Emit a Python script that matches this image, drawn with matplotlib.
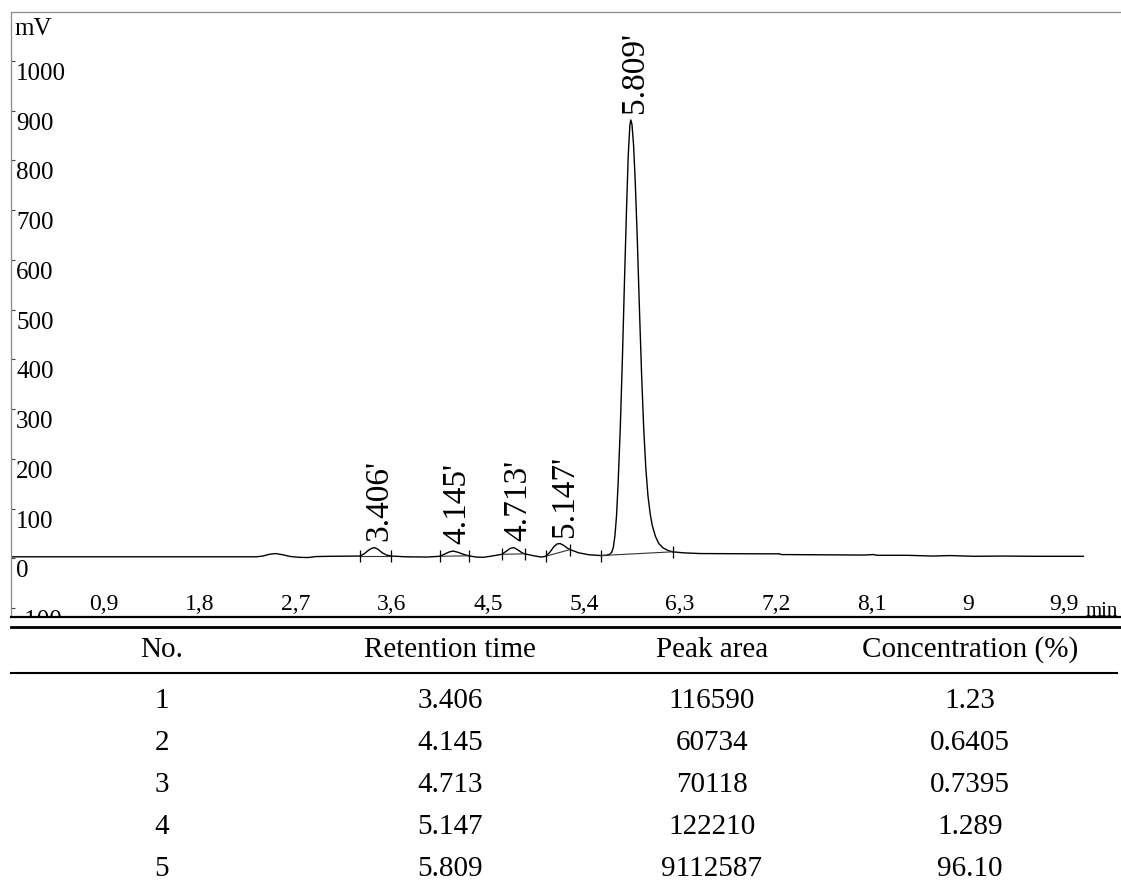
import matplotlib
matplotlib.use("Agg")
import matplotlib.pyplot as plt
from matplotlib.lines import Line2D

plt.rcParams['font.family'] = ['Liberation Serif', 'DejaVu Serif']

# ---- chromatogram trace (time in min, signal in mV)
time_min = [0.00, 1.00, 2.00, 2.30, 2.36, 2.42, 2.48, 2.55, 2.62, 2.70, 2.78, 2.86, 3.00,
            3.27, 3.31, 3.35, 3.38, 3.406, 3.44, 3.48, 3.52, 3.565,
            3.70, 3.90, 4.017, 4.06, 4.11, 4.145, 4.19, 4.24, 4.29,
            4.36, 4.43, 4.52, 4.60, 4.64, 4.68, 4.713, 4.75, 4.79, 4.815,
            4.90, 4.97, 5.01, 5.05, 5.09, 5.12, 5.147, 5.18, 5.21, 5.24,
            5.32, 5.42, 5.53, 5.58, 5.61, 5.63, 5.645, 5.66, 5.675, 5.69, 5.71,
            5.73, 5.75, 5.77, 5.785, 5.80, 5.809, 5.82, 5.835, 5.85, 5.87, 5.89,
            5.91, 5.93, 5.95, 5.97, 5.99, 6.01, 6.04, 6.07, 6.11, 6.16, 6.20,
            6.30, 6.46, 7.00, 7.20, 7.22, 7.60, 8.00, 8.08, 8.12, 8.40, 8.64,
            8.80, 9.02, 9.30, 9.60, 10.05]
signal_mv = [3.0, 3.0, 3.0, 3.0, 4.5, 8.0, 9.5, 7.0, 3.5, 2.0, 1.5, 3.5, 4.0,
             4.5, 9.0, 16.0, 20.0, 21.5, 18.0, 11.0, 6.5, 4.5,
             3.0, 2.5, 4.0, 8.0, 13.0, 14.5, 12.0, 8.0, 5.0,
             2.5, 2.0, 5.0, 8.0, 14.0, 20.0, 21.5, 17.0, 11.0, 9.0,
             5.0, 2.5, 4.0, 12.0, 24.0, 29.0, 29.5, 26.0, 21.0, 17.5,
             11.0, 7.0, 5.5, 6.0, 8.0, 12.0, 22.0, 45.0, 85.0, 150.0, 260.0,
             400.0, 560.0, 710.0, 810.0, 870.0, 881.0, 872.0, 830.0, 760.0, 640.0, 500.0,
             370.0, 260.0, 180.0, 125.0, 90.0, 66.0, 44.0, 30.0, 21.0, 15.5, 13.0,
             11.0, 9.5, 9.0, 9.0, 7.5, 7.0, 6.5, 7.5, 6.0, 6.0, 4.5,
             5.5, 4.0, 4.5, 4.0, 4.0]

# ---- peaks
peak_times = [3.406, 4.145, 4.713, 5.147, 5.809]
peak_heights = [21.5, 14.5, 21.5, 29.5, 881.0]
peak_labels = ["3.406'", "4.145'", "4.713'", "5.147'", "5.809'"]
# integration limits (start/end) and the signal there
limit_start_t = [3.27, 4.017, 4.60, 5.01, 5.53]
limit_start_v = [4.5, 4.0, 8.0, 4.0, 5.5]
limit_end_t = [3.565, 4.29, 4.815, 5.24, 6.20]
limit_end_v = [4.5, 5.0, 9.0, 17.5, 13.0]

# ---- axes ticks
y_ticks = [-100, 0, 100, 200, 300, 400, 500, 600, 700, 800, 900, 1000]
x_ticks = [0.9, 1.8, 2.7, 3.6, 4.5, 5.4, 6.3, 7.2, 8.1, 9.0, 9.9]
x_tick_labels = ["0,9", "1,8", "2,7", "3,6", "4,5", "5,4", "6,3", "7,2", "8,1", "9", "9,9"]

# ---- table
table_header = ["No.", "Retention time", "Peak area", "Concentration (%)"]
table_no = ["1", "2", "3", "4", "5"]
table_rt = ["3.406", "4.145", "4.713", "5.147", "5.809"]
table_area = ["116590", "60734", "70118", "122210", "9112587"]
table_conc = ["1.23", "0.6405", "0.7395", "1.289", "96.10"]

W, H = 1121, 892
fig = plt.figure(figsize=(W / 100, H / 100), dpi=100)

ax_left, ax_top, ax_bottom = 11, 12, 617
ax = fig.add_axes([ax_left / W, 1 - ax_bottom / H, (W + 5 - ax_left) / W, (ax_bottom - ax_top) / H])
ax.set_xlim(0, 10.45)
ax.set_ylim(-118, 1098)

for s in ['top', 'left']:
    ax.spines[s].set_color('#8a8a8a')
    ax.spines[s].set_linewidth(0.9)
ax.spines['right'].set_visible(False)
ax.spines['bottom'].set_color('black')
ax.spines['bottom'].set_linewidth(1.6)

ax.set_yticks(y_ticks)
ax.tick_params(axis='y', direction='in', length=3, width=0.8, color='#444444', labelleft=False)
ax.set_xticks([])

# trace
ax.plot(time_min, signal_mv, color='black', lw=1.0, solid_joinstyle='round')

# integration baselines and limit markers
for ts, vs, te, ve in zip(limit_start_t, limit_start_v, limit_end_t, limit_end_v):
    ax.plot([ts, te], [vs, ve], color='#333333', lw=0.8)
    ax.plot([ts, te], [vs, ve], linestyle='none', marker='|', markersize=8,
            markeredgewidth=0.9, color='black')

# peak labels
for t, h, lab in zip(peak_times, peak_heights, peak_labels):
    ax.annotate(lab, xy=(t, h), xytext=(3, 5), textcoords='offset points',
                rotation=90, ha='center', va='bottom', fontsize=24)

# y tick labels (inside, clipped by the axes)
ytrans = ax.get_yaxis_transform()
for v in y_ticks:
    lab = "-100" if v < 0 else str(v)
    ax.text(5 / 1110, v - 4, lab, transform=ytrans, ha='left', va='top',
            fontsize=18, clip_on=True)

ax.text(3 / 1110, 0.990, "mV", transform=ax.transAxes, ha='left', va='top', fontsize=18)

# x tick labels (inside)
xtrans = ax.get_xaxis_transform()
for t, lab in zip(x_ticks, x_tick_labels):
    ax.text(t - 0.03, 0.012, lab, transform=xtrans, ha='center', va='baseline', fontsize=17)
ax.text((1118 - ax_left) / (W + 5 - ax_left), 0.002, "min", transform=ax.transAxes,
        ha='right', va='baseline', fontsize=15)

# ---- table
def hline(y, lw, x0=11, x1=W):
    fig.add_artist(Line2D([x0 / W, x1 / W], [1 - y / H, 1 - y / H],
                          transform=fig.transFigure, color='black', lw=lw))

hline(627, 2.0)
hline(673, 1.5, 11, 1117)

col_x = [162, 450, 712, 970]
header_y = 650
row_y = [701, 743, 785, 827, 869]
for cx, txt in zip(col_x, table_header):
    fig.text(cx / W, 1 - header_y / H, txt, ha='center', va='center', fontsize=21)
for i in range(len(table_no)):
    for cx, col in zip(col_x, [table_no, table_rt, table_area, table_conc]):
        fig.text(cx / W, 1 - row_y[i] / H, col[i], ha='center', va='center', fontsize=21)

fig.savefig("out.png", dpi=100)
